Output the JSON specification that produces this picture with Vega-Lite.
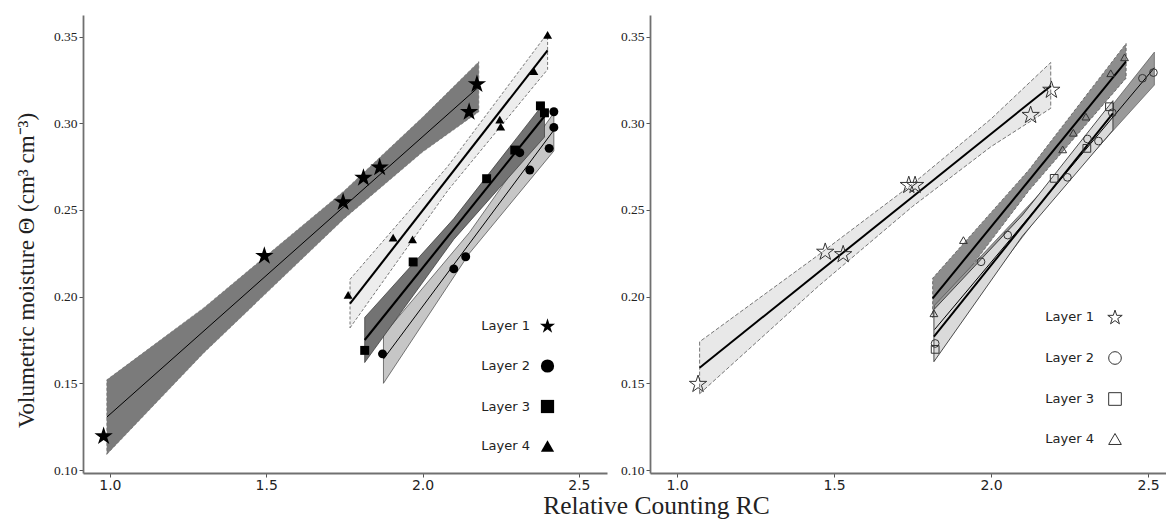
{
  "$schema": "https://vega.github.io/schema/vega-lite/v6.json",
  "padding": {"left": 15, "top": 15, "right": 0, "bottom": 0},
  "spacing": 13,
  "title": {"text": "Relative Counting RC", "orient": "bottom", "anchor": "middle", "font": "Liberation Serif", "fontSize": 25.5, "fontWeight": "normal", "color": "#222", "dx": 66, "offset": 2},
  "datasets": {
    "bands": [
      {"panel": "a", "layer": "Layer 1", "rc": 0.99, "theta": 0.109, "theta2": 0.152},
      {"panel": "a", "layer": "Layer 1", "rc": 1.3, "theta": 0.1675, "theta2": 0.1935},
      {"panel": "a", "layer": "Layer 1", "rc": 1.75, "theta": 0.2451, "theta2": 0.2611},
      {"panel": "a", "layer": "Layer 1", "rc": 2.0, "theta": 0.2834, "theta2": 0.3034},
      {"panel": "a", "layer": "Layer 1", "rc": 2.18, "theta": 0.3066, "theta2": 0.3355},
      {"panel": "a", "layer": "Layer 4", "rc": 1.768, "theta": 0.182, "theta2": 0.21},
      {"panel": "a", "layer": "Layer 4", "rc": 2.08, "theta": 0.261, "theta2": 0.275},
      {"panel": "a", "layer": "Layer 4", "rc": 2.4, "theta": 0.331, "theta2": 0.352},
      {"panel": "a", "layer": "Layer 3", "rc": 1.815, "theta": 0.162, "theta2": 0.188},
      {"panel": "a", "layer": "Layer 3", "rc": 2.1, "theta": 0.233, "theta2": 0.245},
      {"panel": "a", "layer": "Layer 3", "rc": 2.39, "theta": 0.292, "theta2": 0.312},
      {"panel": "a", "layer": "Layer 2", "rc": 1.875, "theta": 0.15, "theta2": 0.178},
      {"panel": "a", "layer": "Layer 2", "rc": 2.15, "theta": 0.225, "theta2": 0.237},
      {"panel": "a", "layer": "Layer 2", "rc": 2.42, "theta": 0.284, "theta2": 0.306},
      {"panel": "b", "layer": "Layer 1", "rc": 1.072, "theta": 0.144, "theta2": 0.174},
      {"panel": "b", "layer": "Layer 1", "rc": 1.45, "theta": 0.206, "theta2": 0.224},
      {"panel": "b", "layer": "Layer 1", "rc": 1.75, "theta": 0.252, "theta2": 0.265},
      {"panel": "b", "layer": "Layer 1", "rc": 2.0, "theta": 0.2865, "theta2": 0.3025},
      {"panel": "b", "layer": "Layer 1", "rc": 2.19, "theta": 0.3086, "theta2": 0.335},
      {"panel": "b", "layer": "Layer 4", "rc": 1.814, "theta": 0.188, "theta2": 0.2106},
      {"panel": "b", "layer": "Layer 4", "rc": 2.12, "theta": 0.261, "theta2": 0.273},
      {"panel": "b", "layer": "Layer 4", "rc": 2.43, "theta": 0.326, "theta2": 0.346},
      {"panel": "b", "layer": "Layer 2", "rc": 1.82, "theta": 0.168, "theta2": 0.195},
      {"panel": "b", "layer": "Layer 2", "rc": 2.2, "theta": 0.258, "theta2": 0.268},
      {"panel": "b", "layer": "Layer 2", "rc": 2.52, "theta": 0.322, "theta2": 0.341},
      {"panel": "b", "layer": "Layer 3", "rc": 1.818, "theta": 0.1625, "theta2": 0.1925},
      {"panel": "b", "layer": "Layer 3", "rc": 2.1, "theta": 0.235, "theta2": 0.247},
      {"panel": "b", "layer": "Layer 3", "rc": 2.388, "theta": 0.296, "theta2": 0.313}
    ],
    "lines": [
      {"panel": "a", "layer": "Layer 1", "rc": 0.99, "theta": 0.1305},
      {"panel": "a", "layer": "Layer 1", "rc": 2.18, "theta": 0.321},
      {"panel": "a", "layer": "Layer 4", "rc": 1.768, "theta": 0.196},
      {"panel": "a", "layer": "Layer 4", "rc": 2.4, "theta": 0.342},
      {"panel": "a", "layer": "Layer 3", "rc": 1.815, "theta": 0.175},
      {"panel": "a", "layer": "Layer 3", "rc": 2.39, "theta": 0.304},
      {"panel": "a", "layer": "Layer 2", "rc": 1.875, "theta": 0.164},
      {"panel": "a", "layer": "Layer 2", "rc": 2.42, "theta": 0.296},
      {"panel": "b", "layer": "Layer 1", "rc": 1.072, "theta": 0.159},
      {"panel": "b", "layer": "Layer 1", "rc": 2.19, "theta": 0.3215},
      {"panel": "b", "layer": "Layer 4", "rc": 1.814, "theta": 0.199},
      {"panel": "b", "layer": "Layer 4", "rc": 2.43, "theta": 0.3356},
      {"panel": "b", "layer": "Layer 3", "rc": 1.818, "theta": 0.177},
      {"panel": "b", "layer": "Layer 3", "rc": 2.388, "theta": 0.3057},
      {"panel": "b", "layer": "Layer 2", "rc": 1.82, "theta": 0.181},
      {"panel": "b", "layer": "Layer 2", "rc": 2.52, "theta": 0.332}
    ],
    "points": [
      {"panel": "a", "layer": "Layer 1", "rc": 0.98, "theta": 0.12},
      {"panel": "a", "layer": "Layer 1", "rc": 1.494, "theta": 0.224},
      {"panel": "a", "layer": "Layer 1", "rc": 1.746, "theta": 0.255},
      {"panel": "a", "layer": "Layer 1", "rc": 1.811, "theta": 0.269},
      {"panel": "a", "layer": "Layer 1", "rc": 1.863, "theta": 0.275},
      {"panel": "a", "layer": "Layer 1", "rc": 2.149, "theta": 0.307},
      {"panel": "a", "layer": "Layer 1", "rc": 2.174, "theta": 0.323},
      {"panel": "a", "layer": "Layer 2", "rc": 1.872, "theta": 0.167},
      {"panel": "a", "layer": "Layer 2", "rc": 2.1, "theta": 0.216},
      {"panel": "a", "layer": "Layer 2", "rc": 2.138, "theta": 0.223},
      {"panel": "a", "layer": "Layer 2", "rc": 2.311, "theta": 0.283},
      {"panel": "a", "layer": "Layer 2", "rc": 2.343, "theta": 0.273},
      {"panel": "a", "layer": "Layer 2", "rc": 2.405, "theta": 0.2855},
      {"panel": "a", "layer": "Layer 2", "rc": 2.42, "theta": 0.2976},
      {"panel": "a", "layer": "Layer 2", "rc": 2.42, "theta": 0.3066},
      {"panel": "a", "layer": "Layer 3", "rc": 1.815, "theta": 0.169},
      {"panel": "a", "layer": "Layer 3", "rc": 1.97, "theta": 0.22},
      {"panel": "a", "layer": "Layer 3", "rc": 2.205, "theta": 0.268},
      {"panel": "a", "layer": "Layer 3", "rc": 2.295, "theta": 0.2845},
      {"panel": "a", "layer": "Layer 3", "rc": 2.377, "theta": 0.31},
      {"panel": "a", "layer": "Layer 3", "rc": 2.39, "theta": 0.306},
      {"panel": "a", "layer": "Layer 4", "rc": 1.762, "theta": 0.201},
      {"panel": "a", "layer": "Layer 4", "rc": 1.906, "theta": 0.234},
      {"panel": "a", "layer": "Layer 4", "rc": 1.968, "theta": 0.233},
      {"panel": "a", "layer": "Layer 4", "rc": 2.247, "theta": 0.302},
      {"panel": "a", "layer": "Layer 4", "rc": 2.25, "theta": 0.298},
      {"panel": "a", "layer": "Layer 4", "rc": 2.356, "theta": 0.33},
      {"panel": "a", "layer": "Layer 4", "rc": 2.4, "theta": 0.351},
      {"panel": "b", "layer": "Layer 1", "rc": 1.067, "theta": 0.15},
      {"panel": "b", "layer": "Layer 1", "rc": 1.472, "theta": 0.2262},
      {"panel": "b", "layer": "Layer 1", "rc": 1.529, "theta": 0.2248},
      {"panel": "b", "layer": "Layer 1", "rc": 1.738, "theta": 0.2647},
      {"panel": "b", "layer": "Layer 1", "rc": 1.758, "theta": 0.2647},
      {"panel": "b", "layer": "Layer 1", "rc": 2.126, "theta": 0.3051},
      {"panel": "b", "layer": "Layer 1", "rc": 2.192, "theta": 0.3196},
      {"panel": "b", "layer": "Layer 2", "rc": 1.822, "theta": 0.173},
      {"panel": "b", "layer": "Layer 2", "rc": 1.968, "theta": 0.2201},
      {"panel": "b", "layer": "Layer 2", "rc": 2.053, "theta": 0.2355},
      {"panel": "b", "layer": "Layer 2", "rc": 2.243, "theta": 0.2688},
      {"panel": "b", "layer": "Layer 2", "rc": 2.307, "theta": 0.2909},
      {"panel": "b", "layer": "Layer 2", "rc": 2.342, "theta": 0.2897},
      {"panel": "b", "layer": "Layer 2", "rc": 2.386, "theta": 0.306},
      {"panel": "b", "layer": "Layer 2", "rc": 2.482, "theta": 0.3259},
      {"panel": "b", "layer": "Layer 2", "rc": 2.517, "theta": 0.3292},
      {"panel": "b", "layer": "Layer 3", "rc": 1.822, "theta": 0.1696},
      {"panel": "b", "layer": "Layer 3", "rc": 2.201, "theta": 0.2682},
      {"panel": "b", "layer": "Layer 3", "rc": 2.305, "theta": 0.2855},
      {"panel": "b", "layer": "Layer 3", "rc": 2.377, "theta": 0.3095},
      {"panel": "b", "layer": "Layer 4", "rc": 1.818, "theta": 0.1904},
      {"panel": "b", "layer": "Layer 4", "rc": 1.912, "theta": 0.2326},
      {"panel": "b", "layer": "Layer 4", "rc": 2.228, "theta": 0.2849},
      {"panel": "b", "layer": "Layer 4", "rc": 2.262, "theta": 0.2945},
      {"panel": "b", "layer": "Layer 4", "rc": 2.302, "theta": 0.3038},
      {"panel": "b", "layer": "Layer 4", "rc": 2.381, "theta": 0.3288},
      {"panel": "b", "layer": "Layer 4", "rc": 2.425, "theta": 0.338}
    ]
  },
  "hconcat": [
    {
      "width": 524,
      "height": 458,
      "encoding": {
        "x": {"field": "rc", "type": "quantitative", "scale": {"domain": [0.914, 2.59], "nice": false, "zero": false},
              "axis": {"values": [1, 1.5, 2, 2.5], "format": ".1f", "title": null, "labelFont": "DejaVu Sans", "labelFontSize": 14, "labelPadding": 1, "tickSize": 4}},
        "y": {"field": "theta", "type": "quantitative", "scale": {"domain": [0.0983, 0.3624], "nice": false, "zero": false},
              "axis": {"values": [0.1, 0.15, 0.2, 0.25, 0.3, 0.35], "format": ".2f", "title": "Volumetric moisture Θ (cm³ cm⁻³)", "titleFont": "Liberation Serif", "titleFontSize": 23, "titleFontWeight": "normal", "titleColor": "#222", "titleX": -45, "titleY": 255, "labelFont": "Liberation Serif", "labelFontSize": 13.5, "labelPadding": 2, "tickSize": 4}}
      },
      "layer": [
        {"data": {"name": "bands"}, "transform": [{"filter": "datum.panel == 'a' && datum.layer == 'Layer 1'"}],
         "mark": {"type": "area", "fill": "#7b7b7b", "stroke": "#666", "strokeWidth": 0.6, "strokeDash": [3, 2]},
         "encoding": {"y2": {"field": "theta2"}}},
        {"data": {"name": "bands"}, "transform": [{"filter": "datum.panel == 'a' && datum.layer == 'Layer 4'"}],
         "mark": {"type": "area", "fill": "#ededed", "stroke": "#555", "strokeWidth": 0.8, "strokeDash": [3, 2]},
         "encoding": {"y2": {"field": "theta2"}}},
        {"data": {"name": "bands"}, "transform": [{"filter": "datum.panel == 'a' && datum.layer == 'Layer 2'"}],
         "mark": {"type": "area", "fill": "#c6c6c6", "stroke": "#444", "strokeWidth": 0.7},
         "encoding": {"y2": {"field": "theta2"}}},
        {"data": {"name": "bands"}, "transform": [{"filter": "datum.panel == 'a' && datum.layer == 'Layer 3'"}],
         "mark": {"type": "area", "fill": "#737373", "stroke": "#333", "strokeWidth": 0.7},
         "encoding": {"y2": {"field": "theta2"}}},
        {"data": {"name": "lines"}, "transform": [{"filter": "datum.panel == 'a' && (datum.layer == 'Layer 1' || datum.layer == 'Layer 2')"}],
         "mark": {"type": "line", "color": "black", "strokeWidth": 1},
         "encoding": {"detail": {"field": "layer"}}},
        {"data": {"name": "lines"}, "transform": [{"filter": "datum.panel == 'a' && (datum.layer == 'Layer 3' || datum.layer == 'Layer 4')"}],
         "mark": {"type": "line", "color": "black", "strokeWidth": 2.1},
         "encoding": {"detail": {"field": "layer"}}},
        {"data": {"name": "points"}, "transform": [{"filter": "datum.panel == 'a' && datum.layer != 'Layer 1'"}],
         "mark": {"type": "point", "filled": true, "color": "black", "opacity": 1, "size": 80},
         "encoding": {
           "shape": {"field": "layer", "type": "nominal",
                     "scale": {"domain": ["Layer 1", "Layer 2", "Layer 3", "Layer 4"], "range": ["M0,-1.09L0.2694,-0.2608L1.1412,-0.2608L0.4356,0.2516L0.7056,1.0808L0,0.5684L-0.7056,1.0808L-0.4356,0.2516L-1.1412,-0.2608L-0.2694,-0.2608Z", "circle", "square", "triangle-up"]},
                     "legend": {"title": null, "orient": "none", "legendX": 457, "legendY": 303, "labelAlign": "right", "labelOffset": -25, "symbolSize": 175, "symbolFillColor": "black", "symbolStrokeColor": "black", "rowPadding": 19.5, "labelFont": "DejaVu Sans", "labelFontSize": 13, "labelColor": "#222", "padding": 0}}
         }},
        {"data": {"name": "points"}, "transform": [{"filter": "datum.panel == 'a' && datum.layer == 'Layer 1'"}],
         "mark": {"type": "point", "filled": true, "color": "black", "opacity": 1, "size": 260},
         "encoding": {
           "shape": {"field": "layer", "type": "nominal",
                     "scale": {"domain": ["Layer 1", "Layer 2", "Layer 3", "Layer 4"], "range": ["M0,-1.09L0.2694,-0.2608L1.1412,-0.2608L0.4356,0.2516L0.7056,1.0808L0,0.5684L-0.7056,1.0808L-0.4356,0.2516L-1.1412,-0.2608L-0.2694,-0.2608Z", "circle", "square", "triangle-up"]},
                     "legend": {"title": null, "orient": "none", "legendX": 457, "legendY": 303, "labelAlign": "right", "labelOffset": -25, "symbolSize": 175, "symbolFillColor": "black", "symbolStrokeColor": "black", "rowPadding": 19.5, "labelFont": "DejaVu Sans", "labelFontSize": 13, "labelColor": "#222", "padding": 0}}
         }},
        {"data": {"values": [{}]},
         "mark": {"type": "text", "font": "Open Sans", "fontSize": 19, "color": "#222"},
         "encoding": {"x": {"datum": 1.074}, "y": {"datum": 0.3365}, "text": {"value": "(a)"}}}
      ]
    },
    {
      "width": 516,
      "height": 458,
      "encoding": {
        "x": {"field": "rc", "type": "quantitative", "scale": {"domain": [0.914, 2.557], "nice": false, "zero": false},
              "axis": {"values": [1, 1.5, 2, 2.5], "format": ".1f", "title": null, "labelFont": "DejaVu Sans", "labelFontSize": 14, "labelPadding": 1, "tickSize": 4}},
        "y": {"field": "theta", "type": "quantitative", "scale": {"domain": [0.0983, 0.3624], "nice": false, "zero": false},
              "axis": {"values": [0.1, 0.15, 0.2, 0.25, 0.3, 0.35], "format": ".2f", "title": null, "labelFont": "Liberation Serif", "labelFontSize": 13.5, "labelPadding": 2, "tickSize": 4}}
      },
      "layer": [
        {"data": {"name": "bands"}, "transform": [{"filter": "datum.panel == 'b' && datum.layer == 'Layer 1'"}],
         "mark": {"type": "area", "fill": "#e8e8e8", "stroke": "#555", "strokeWidth": 0.8, "strokeDash": [4, 2]},
         "encoding": {"y2": {"field": "theta2"}}},
        {"data": {"name": "bands"}, "transform": [{"filter": "datum.panel == 'b' && datum.layer == 'Layer 4'"}],
         "mark": {"type": "area", "fill": "#8d8d8d", "stroke": "#555", "strokeWidth": 0.8, "strokeDash": [3, 2]},
         "encoding": {"y2": {"field": "theta2"}}},
        {"data": {"name": "bands"}, "transform": [{"filter": "datum.panel == 'b' && datum.layer == 'Layer 2'"}],
         "mark": {"type": "area", "fill": "#9a9a9a", "stroke": "#444", "strokeWidth": 0.6},
         "encoding": {"y2": {"field": "theta2"}}},
        {"data": {"name": "bands"}, "transform": [{"filter": "datum.panel == 'b' && datum.layer == 'Layer 3'"}],
         "mark": {"type": "area", "fill": "#dadada", "stroke": "#222", "strokeWidth": 0.8},
         "encoding": {"y2": {"field": "theta2"}}},
        {"data": {"name": "lines"}, "transform": [{"filter": "datum.panel == 'b' && datum.layer == 'Layer 2'"}],
         "mark": {"type": "line", "color": "black", "strokeWidth": 1},
         "encoding": {"detail": {"field": "layer"}}},
        {"data": {"name": "lines"}, "transform": [{"filter": "datum.panel == 'b' && datum.layer != 'Layer 2'"}],
         "mark": {"type": "line", "color": "black", "strokeWidth": 2},
         "encoding": {"detail": {"field": "layer"}}},
        {"data": {"name": "points"}, "transform": [{"filter": "datum.panel == 'b' && datum.layer != 'Layer 1'"}],
         "mark": {"type": "point", "filled": false, "color": "#333", "strokeWidth": 1, "opacity": 1, "size": 60},
         "encoding": {
           "shape": {"field": "layer", "type": "nominal",
                     "scale": {"domain": ["Layer 1", "Layer 2", "Layer 3", "Layer 4"], "range": ["M0,-1.09L0.2694,-0.2608L1.1412,-0.2608L0.4356,0.2516L0.7056,1.0808L0,0.5684L-0.7056,1.0808L-0.4356,0.2516L-1.1412,-0.2608L-0.2694,-0.2608Z", "circle", "square", "triangle-up"]},
                     "legend": {"title": null, "orient": "none", "legendX": 458, "legendY": 295, "labelAlign": "right", "labelOffset": -28, "symbolSize": 160, "symbolFillColor": "transparent", "symbolStrokeColor": "#333", "symbolStrokeWidth": 1, "rowPadding": 23, "labelFont": "DejaVu Sans", "labelFontSize": 13, "labelColor": "#222", "padding": 0}}
         }},
        {"data": {"name": "points"}, "transform": [{"filter": "datum.panel == 'b' && datum.layer == 'Layer 1'"}],
         "mark": {"type": "point", "filled": false, "color": "#333", "strokeWidth": 1, "opacity": 1, "size": 230},
         "encoding": {
           "shape": {"field": "layer", "type": "nominal",
                     "scale": {"domain": ["Layer 1", "Layer 2", "Layer 3", "Layer 4"], "range": ["M0,-1.09L0.2694,-0.2608L1.1412,-0.2608L0.4356,0.2516L0.7056,1.0808L0,0.5684L-0.7056,1.0808L-0.4356,0.2516L-1.1412,-0.2608L-0.2694,-0.2608Z", "circle", "square", "triangle-up"]},
                     "legend": {"title": null, "orient": "none", "legendX": 458, "legendY": 295, "labelAlign": "right", "labelOffset": -28, "symbolSize": 160, "symbolFillColor": "transparent", "symbolStrokeColor": "#333", "symbolStrokeWidth": 1, "rowPadding": 23, "labelFont": "DejaVu Sans", "labelFontSize": 13, "labelColor": "#222", "padding": 0}}
         }},
        {"data": {"values": [{}]},
         "mark": {"type": "text", "font": "Open Sans", "fontSize": 19, "color": "#222"},
         "encoding": {"x": {"datum": 1.105}, "y": {"datum": 0.3365}, "text": {"value": "(b)"}}}
      ]
    }
  ],
  "resolve": {"scale": {"shape": "independent"}, "legend": {"shape": "independent"}},
  "config": {
    "view": {"stroke": null},
    "axis": {"domainColor": "#707070", "domainWidth": 1.8, "tickColor": "#555", "tickWidth": 1, "grid": false, "labelColor": "#222"}
  }
}
